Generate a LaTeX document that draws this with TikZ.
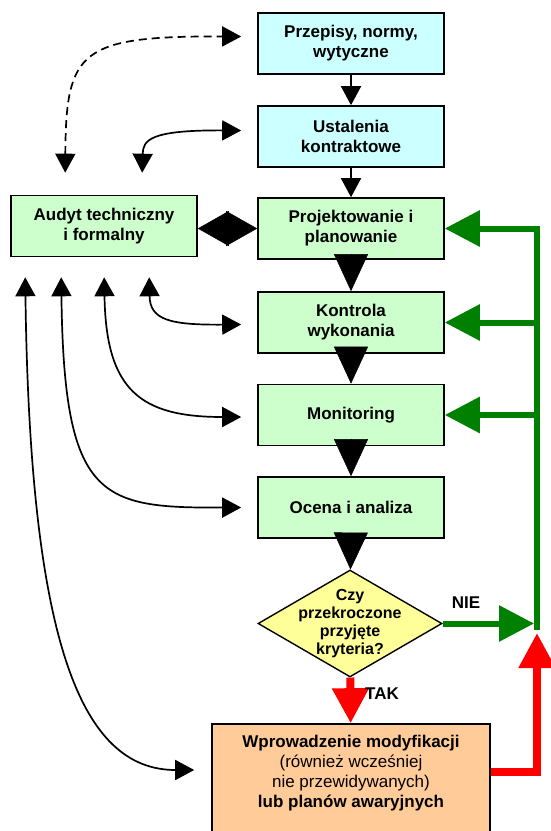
\documentclass[tikz,border=0pt]{standalone}
\usepackage{fontspec}
\setmainfont{Liberation Sans}
\usetikzlibrary{shapes.geometric,arrows.meta,calc}

\def \boxw {186pt}
\def \boxh {61pt}
\definecolor{cyanbox}{HTML}{CCFFFF}
\definecolor{greenbox}{HTML}{CCFFCC}
\definecolor{yellowbox}{HTML}{FFFF99}
\definecolor{orangebox}{HTML}{FFCC99}
\definecolor{loopgreen}{HTML}{008000}

\begin{document}
\begin{tikzpicture}[x=1pt, y=-1pt,
  every node/.style={font=\fontsize{17}{20}\selectfont\bfseries, align=center},
  stage/.style={draw, line width=1.6pt, minimum width=\boxw, minimum height=\boxh, inner sep=0pt},
  decision/.style={diamond, draw, line width=1.4pt, fill=yellowbox, minimum width=184pt, minimum height=107pt, inner sep=0pt},
  link/.style={line width=1.7pt, {Triangle[width=20pt,length=19pt]}-{Triangle[width=20pt,length=19pt]}},
  flow/.style={line width=1.7pt, -{Triangle[width=20pt,length=19pt]}},
  bigflow/.style={line width=0.5pt, -{Triangle[width=34pt,length=37pt]}},
  bigboth/.style={line width=0.5pt, {Triangle[width=35pt,length=31pt]}-{Triangle[width=35pt,length=31pt]}},
  greenflow/.style={loopgreen, line width=6pt, -{Triangle[width=35pt,length=35pt]}},
  redflow/.style={red, line width=8pt, -{Triangle[width=35pt,length=35pt]}}]
\useasboundingbox (0,0) rectangle (550,831);

\node[stage, fill=cyanbox] (pre) at (351,43.5) {Przepisy, normy,\\wytyczne};
\node[stage, fill=cyanbox] (ust) at (351,136.5) {Ustalenia\\kontraktowe};
\node[stage, fill=greenbox] (proj) at (351,228.5) {Projektowanie i\\planowanie};
\node[stage, fill=greenbox] (kon) at (351,322.5) {Kontrola\\wykonania};
\node[stage, fill=greenbox] (mon) at (351,415) {Monitoring};
\node[stage, fill=greenbox] (oce) at (351,507.5) {Ocena i analiza};
\node[stage, fill=greenbox] (aud) at (104,226) {Audyt techniczny\\i formalny};
\node[decision] (dec) at (350,623.5) {};
\node[font=\fontsize{16}{18}\selectfont\bfseries] (dect) at (dec) {Czy\\przekroczone\\przyjęte\\kryteria?};
\node[stage, fill=orangebox, minimum width=278pt, minimum height=110pt] (mod) at (351,779) {};
\node (modt) at (351,773) {Wprowadzenie modyfikacji\\{\mdseries (również wcześniej}\\{\mdseries nie przewidywanych)}\\lub planów awaryjnych};

% main chain
\draw[flow] (pre) -- (ust);
\draw[flow] (ust) -- (proj);
\draw[bigflow] (proj) -- (kon);
\draw[bigflow] (kon) -- (mon);
\draw[bigflow] (mon) -- (oce);
\draw[bigflow] (oce) -- (dec);
\draw[bigboth] (aud.east |- proj.west) -- (proj.west);

% feedback
\coordinate (gbot) at (537,630);
\coordinate (gtop) at (proj.east -| gbot);
\coordinate (niend) at (534,623.5);
\coordinate (rtip) at (537,633);
\draw[greenflow] (gbot) -- (gtop) -- (proj);
\draw[greenflow] (kon.east -| gbot) -- (kon);
\draw[greenflow] (mon.east -| gbot) -- (mon);
\draw[greenflow] (dec) -- (niend);
\draw[redflow] (dec) -- (mod);
\draw[redflow] ($(mod.east)+(0,-7)$) -| (rtip);
\node (nie) at (466,603) {NIE};
\node (tak) at (382,694) {TAK};

% audit links
\draw[link, dash pattern=on 8pt off 5pt] ($(aud.north west)+(55,-22)$) .. controls (66,50) and (80,36) .. ($(pre.west)+(-16,-7)$);
\draw[link] ($(aud.north west)+(132,-22)$) .. controls (143,140) and (150,130) .. ($(ust.west)+(-16,-6)$);
\draw[link] ($(aud.south west)+(139,20)$) .. controls (150,320) and (170,325) .. ($(kon.west)+(-16,2)$);
\draw[link] ($(aud.south west)+(94,20)$) .. controls (106,390) and (140,417) .. ($(mon.west)+(-16,2)$);
\draw[link] ($(aud.south west)+(51,20)$) .. controls (64,500) and (100,508) .. ($(oce.west)+(-16,0)$);
\draw[link] ($(aud.south west)+(15,20)$) .. controls (30,640) and (80,770) .. ($(mod.west)+(-17,-9)$);
\end{tikzpicture}
\end{document}
